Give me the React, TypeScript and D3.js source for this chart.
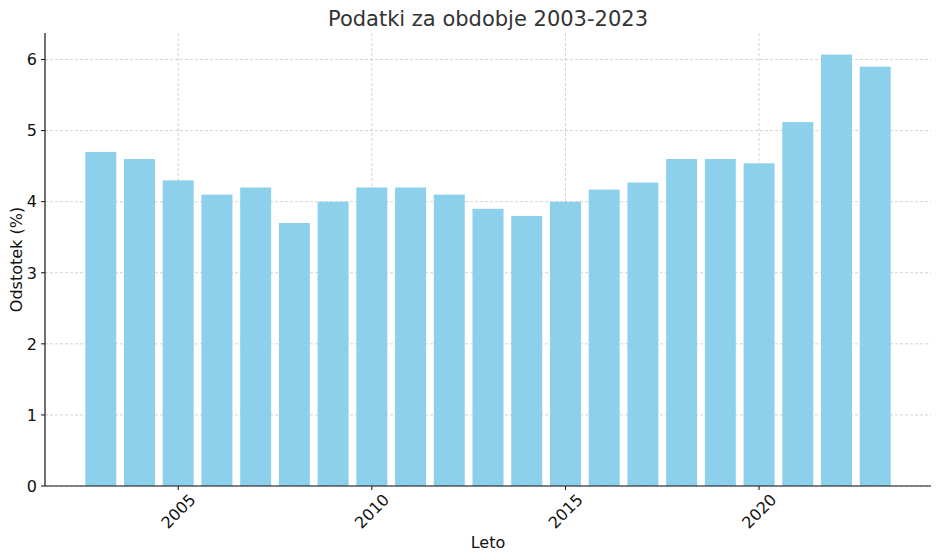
import React from "react";
import * as d3 from "d3";

const years = [2003, 2004, 2005, 2006, 2007, 2008, 2009, 2010, 2011, 2012, 2013, 2014, 2015, 2016, 2017, 2018, 2019, 2020, 2021, 2022, 2023];
const values = [4.7, 4.6, 4.3, 4.1, 4.2, 3.7, 4.0, 4.2, 4.2, 4.1, 3.9, 3.8, 4.0, 4.17, 4.27, 4.6, 4.6, 4.54, 5.12, 6.07, 5.9];
const xTicks = [2005, 2010, 2015, 2020];
const yTicks = [0, 1, 2, 3, 4, 5, 6];
const title = "Podatki za obdobje 2003-2023";
const xLabel = "Leto";
const yLabel = "Odstotek (%)";

export default function App() {
  const W = 940, H = 560;
  const left = 45, right = 931, top = 33, bottom = 486;
  const barW = 0.8;
  const minX = d3.min(years)! - barW / 2, maxX = d3.max(years)! + barW / 2;
  const mx = (maxX - minX) * 0.05;
  const x = d3.scaleLinear().domain([minX - mx, maxX + mx]).range([left, right]);
  const ymax = d3.max(values)! * 1.05;
  const y = d3.scaleLinear().domain([0, ymax]).range([bottom, top]);
  const font = "DejaVu Sans, sans-serif";
  const bw = x(barW) - x(0);
  return (
    <svg width={W} height={H} style={{ position: "absolute", left: 0, top: 0, background: "#fff" }} fontFamily={font}>
      <text x={488} y={26} textAnchor="middle" fontSize={21} fill="#333">{title}</text>
      {xTicks.map(t => (
        <line key={"gx" + t} x1={x(t)} x2={x(t)} y1={top} y2={bottom} stroke="#c8c8c8" strokeDasharray="3,2" strokeWidth={0.8} />
      ))}
      {yTicks.map(t => (
        <line key={"gy" + t} x1={left} x2={right} y1={y(t)} y2={y(t)} stroke="#c8c8c8" strokeDasharray="3,2" strokeWidth={0.8} />
      ))}
      {years.map((yr, i) => (
        <rect key={yr} x={x(yr - barW / 2)} y={y(values[i])} width={bw} height={bottom - y(values[i])} fill="#87CEEB" fillOpacity={0.95} />
      ))}
      <line x1={left} x2={left} y1={top} y2={bottom} stroke="#111" strokeWidth={1.2} />
      <line x1={left} x2={right} y1={bottom} y2={bottom} stroke="#111" strokeWidth={1.2} />
      {yTicks.map(t => (
        <g key={"ty" + t}>
          <line x1={left - 4} x2={left} y1={y(t)} y2={y(t)} stroke="#111" />
          <text x={left - 8} y={y(t)} dy="0.36em" textAnchor="end" fontSize={16} fill="#111">{t}</text>
        </g>
      ))}
      {xTicks.map(t => (
        <g key={"tx" + t}>
          <line x1={x(t)} x2={x(t)} y1={bottom} y2={bottom + 4} stroke="#111" />
          <text transform={`translate(${x(t)},${bottom + 25}) rotate(-45)`} textAnchor="middle" dy="0.36em" fontSize={16} fill="#111">{t}</text>
        </g>
      ))}
      <text x={(left + right) / 2} y={548} textAnchor="middle" fontSize={16} fill="#111">{xLabel}</text>
      <text transform={`translate(22,${(top + bottom) / 2}) rotate(-90)`} textAnchor="middle" fontSize={16} fill="#111">{yLabel}</text>
    </svg>
  );
}
